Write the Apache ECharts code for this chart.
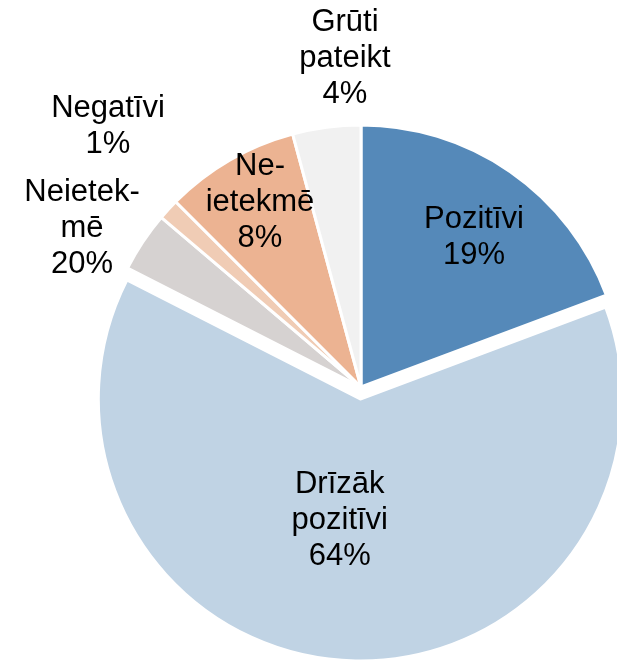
<!DOCTYPE html>
<html>
<head>
<meta charset="utf-8">
<script src="https://cdn.jsdelivr.net/npm/echarts@6/dist/echarts.min.js"></script>
<style>
html,body{margin:0;padding:0;background:#fff;}
#chart{width:617px;height:662px;}
</style>
</head>
<body>
<div id="chart"></div>
<script>
// Data (slice sizes in %, clockwise from 12 o'clock)
var categories = ["Pozitīvi", "Drīzāk pozitīvi", "Neietekmē", "Negatīvi", "Ne-ietekmē", "Grūti pateikt"];
var values = [19.3, 63.2, 3.7, 1.3, 8.3, 4.2];
var labelNames = ["Pozitīvi", "Drīzāk\npozitīvi", "Neietek-\nmē", "Negatīvi", "Ne-\nietekmē", "Grūti\npateikt"];
var labelPercents = ["19%", "64%", "20%", "1%", "8%", "4%"];
var colors = ["#5589B9", "#C0D3E4", "#D6D2D1", "#F0CCB5", "#ECB392", "#F1F1F1"];
var explodedIndex = 1;

// label anchor positions (layout only)
var labelPos = [[474, 237], null, [82, 228], [108, 126], [260, 202], [345, 58]];
var explodedLabelOffset = [-13, -12];

var chart = echarts.init(document.getElementById('chart'), null, {renderer: 'canvas'});
var data = categories.map(function (c, i) {
  var d = {
    name: c,
    value: values[i],
    selected: i === explodedIndex,
    itemStyle: {color: colors[i]}
  };
  if (i === explodedIndex) {
    d.label = {offset: explodedLabelOffset};
    d.select = {label: {offset: explodedLabelOffset}};
  }
  return d;
});
chart.setOption({
  animation: false,
  series: [{
    type: 'pie',
    center: [361, 387],
    radius: [0, 262],
    startAngle: 90,
    clockwise: true,
    selectedMode: 'single',
    selectedOffset: 12,
    avoidLabelOverlap: false,
    itemStyle: {borderColor: '#ffffff', borderWidth: 3},
    emphasis: {disabled: true},
    select: {itemStyle: {borderColor: '#ffffff', borderWidth: 3}},
    label: {
      show: true,
      position: 'inside',
      color: '#000',
      fontFamily: '"Liberation Sans", Arial, sans-serif',
      fontSize: 31,
      lineHeight: 36,
      align: 'center',
      formatter: function (p) {
        return labelNames[p.dataIndex] + '\n' + labelPercents[p.dataIndex];
      }
    },
    labelLine: {show: false},
    labelLayout: function (p) {
      var pos = labelPos[p.dataIndex];
      if (!pos) return {};
      return {x: pos[0], y: pos[1], align: 'center', verticalAlign: 'middle'};
    },
    data: data
  }]
});
</script>
</body>
</html>
